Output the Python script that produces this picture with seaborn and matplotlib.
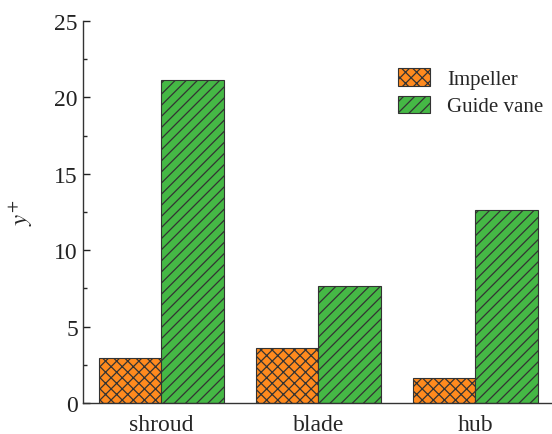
import matplotlib
matplotlib.use("Agg")
import matplotlib.pyplot as plt
import seaborn as sns
import pandas as pd

categories = ["shroud", "blade", "hub"]
impeller = [2.95, 3.6, 1.64]
guide_vane = [21.14, 7.66, 12.63]
series_names = ["Impeller", "Guide vane"]

df = pd.DataFrame({
    "part": categories * 2,
    "value": impeller + guide_vane,
    "series": [series_names[0]] * 3 + [series_names[1]] * 3,
})

sns.set_theme(style="ticks")
plt.rcParams["font.family"] = ["Liberation Serif", "DejaVu Serif"]
plt.rcParams["mathtext.fontset"] = "stix"
plt.rcParams["hatch.linewidth"] = 0.9

fig = plt.figure(figsize=(5.52, 4.35), dpi=100)
ax = fig.add_axes([0.150, 0.0713, 0.848, 0.878])

colors = ["#FF8A1E", "#45B845"]
hatch_colors = ["#B35A00", "#1E6E1E"]
hatches = ["xxx", "///"]
sns.barplot(data=df, x="part", y="value", hue="series", palette=colors,
            width=0.8, saturation=1, edgecolor="#333333", linewidth=0.8,
            legend=False, ax=ax)

for cont, h, hc in zip(ax.containers, hatches, hatch_colors):
    for p in cont.patches:
        p.set_hatch(h)
        if hasattr(p, "set_hatchcolor"):
            p.set_hatchcolor(hc)

ax.set_xlim(-0.5, 2.48)
ax.set_ylim(0, 25)
ax.set_yticks([0, 5, 10, 15, 20, 25])
ax.set_yticks([2.5, 7.5, 12.5, 17.5, 22.5], minor=True)
ax.tick_params(axis="y", which="major", direction="in", length=5, width=1, labelsize=17, colors="#222222")
ax.tick_params(axis="y", which="minor", direction="in", length=3, width=1)
ax.tick_params(axis="x", length=0, labelsize=17, pad=8)
ax.set_xlabel("")
ax.set_ylabel(r"$y^{+}$", fontsize=18, labelpad=14)
for s in ["top", "right"]:
    ax.spines[s].set_visible(False)
for s in ["left", "bottom"]:
    ax.spines[s].set_color("#333333")
    ax.spines[s].set_linewidth(1)

ax.legend(ax.containers, series_names, frameon=False, fontsize=15,
          loc="upper right", bbox_to_anchor=(1.024, 0.925),
          handlelength=1.55, handleheight=0.9, handletextpad=0.8, labelspacing=0.3)

fig.savefig("out.png", dpi=100)
